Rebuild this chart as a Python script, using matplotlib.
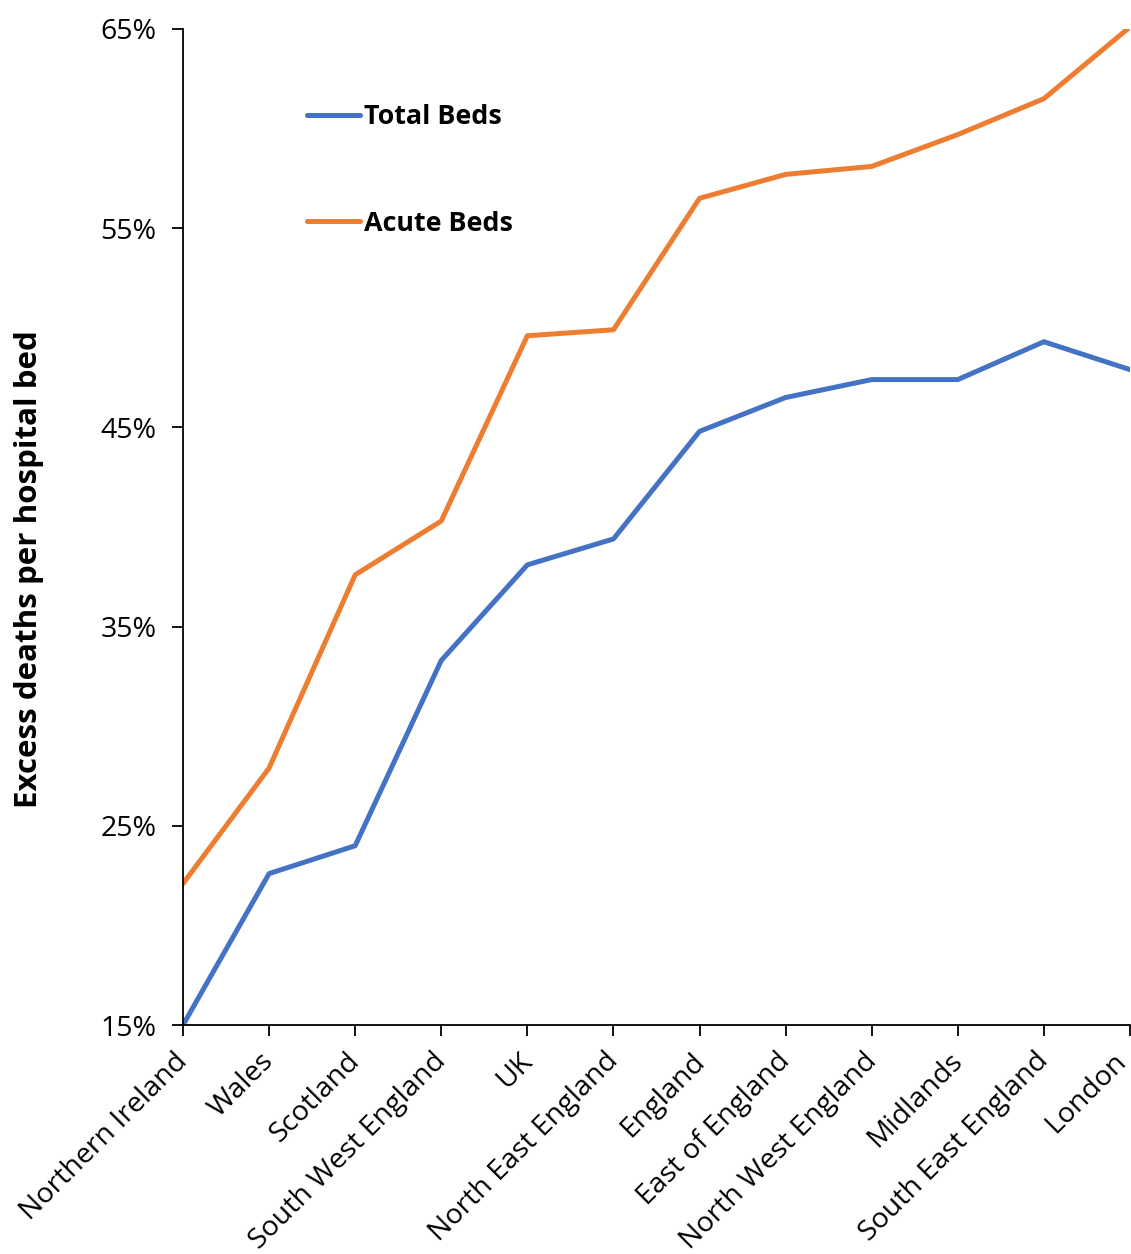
import matplotlib.pyplot as plt
from matplotlib.ticker import FuncFormatter
from matplotlib.transforms import ScaledTranslation

plt.rcParams['font.family'] = ['Open Sans', 'DejaVu Sans']

# Data
regions = ["Northern Ireland", "Wales", "Scotland", "South West England", "UK",
           "North East England", "England", "East of England", "North West England",
           "Midlands", "South East England", "London"]
total_beds = [15.0, 22.6, 24.0, 33.3, 38.1, 39.4, 44.8, 46.5, 47.4, 47.4, 49.3, 47.9]
acute_beds = [22.1, 27.9, 37.6, 40.3, 49.6, 49.9, 56.5, 57.7, 58.1, 59.7, 61.5, 65.1]

fig = plt.figure(figsize=(11.31, 12.54), dpi=100)
ax = fig.add_axes([0.1618, 0.1826, 0.8373, 0.7943])

x = range(len(regions))
ax.plot(x, total_beds, color="#4472C4", lw=3.6, label="Total Beds", solid_capstyle="round")
ax.plot(x, acute_beds, color="#ED7D31", lw=3.6, label="Acute Beds", solid_capstyle="round")

ax.set_xlim(0, len(regions) - 1)
ax.set_ylim(15, 65)
ax.set_yticks([15, 25, 35, 45, 55, 65])
ax.yaxis.set_major_formatter(FuncFormatter(lambda v, p: f"{v:.0f}%"))
ax.set_xticks(list(x))
ax.set_xticklabels(regions, rotation=45, ha="right", rotation_mode="anchor")

for s in ["top", "right"]:
    ax.spines[s].set_visible(False)
for s in ["left", "bottom"]:
    ax.spines[s].set_linewidth(1.3)
ax.tick_params(axis="both", labelsize=20.5, length=8, width=1.3, pad=8)
ax.tick_params(axis="y", pad=11)

# nudge rotated category labels left; the last one a bit more so it fits
labels = ax.get_xticklabels()
for i, lab in enumerate(labels):
    dx = -18 if i == len(labels) - 1 else -9
    lab.set_transform(lab.get_transform() + ScaledTranslation(dx / 100, 0, fig.dpi_scale_trans))

ax.set_ylabel("Excess deaths per hospital bed", fontsize=22.5, fontweight="bold")
ax.yaxis.set_label_coords(-0.147, 0.458)

leg = ax.legend(loc="upper left", bbox_to_anchor=(0.271, 0.917), bbox_transform=fig.transFigure,
                frameon=False, prop={"weight": "bold", "size": 19.4}, labelspacing=3.0,
                handlelength=2.0, handletextpad=0.15, borderpad=0, borderaxespad=0)

fig.savefig("out.png", dpi=100)
